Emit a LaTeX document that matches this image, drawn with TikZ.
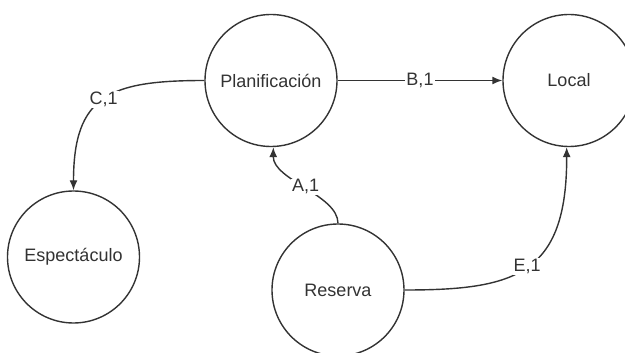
\documentclass[tikz,border=0pt]{standalone}
\usepackage{fontspec}
\setmainfont{Liberation Sans}
\usetikzlibrary{arrows.meta}
\definecolor{ink}{HTML}{333333}
\tikzset{
  entity/.style={circle, draw=ink, line width=1.4pt, minimum size=132pt, inner sep=0pt,
    text=ink, font=\fontsize{18}{21}\selectfont},
  rel/.style={draw=ink, line width=1.4pt, -{Latex[length=10pt,width=8pt]}},
  lab/.style={fill=white, text=ink, inner sep=1pt, font=\fontsize{18}{21}\selectfont}
}
\begin{document}
\begin{tikzpicture}[x=1pt,y=-1pt]
\useasboundingbox (0,0) rectangle (625,353);
\fill[white] (0,0) rectangle (625,353);
\node[entity] (plan) at (271,80.5) {Planificación};
\node[entity] (local) at (569,80.5) {Local};
\node[entity] (esp) at (73.5,257) {Espectáculo};
\node[entity] (res) at (338,290) {Reserva};
\draw[rel] (plan.east) -- node[lab] {B,1} (local.west);
\draw[rel] (plan.west) .. controls (110,80.5) and (73.5,95) .. node[lab, pos=0.5] {C,1} (esp.north);
\draw[rel] (res.north) .. controls (338,195) and (273,180) .. node[lab, pos=0.5] {A,1} (plan.-88);
\draw[rel] (res.east) .. controls (515,290) and (567,275) .. node[lab, pos=0.5] {E,1} (local.-92);
\end{tikzpicture}
\end{document}
